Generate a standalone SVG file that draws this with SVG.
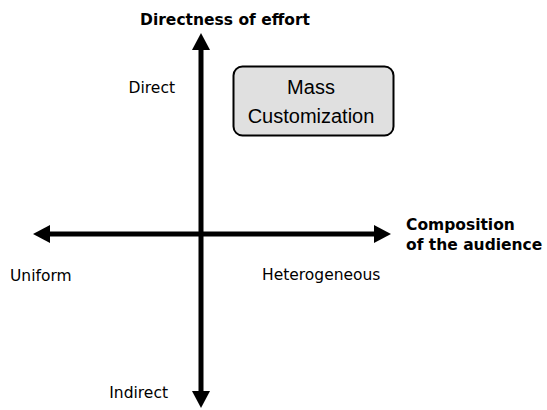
<svg xmlns="http://www.w3.org/2000/svg" width="547" height="410" viewBox="0 0 547 410">
  <style>
    .axis { stroke: #000; stroke-width: 5; fill: none; }
    .label { font-family: "DejaVu Sans", Verdana, sans-serif; font-size: 15.5px; fill: #000; }
    .title { font-family: "DejaVu Sans", Verdana, sans-serif; font-size: 15.5px; font-weight: bold; fill: #000; }
    .box { fill: #e0e0e0; stroke: #000; stroke-width: 2; }
    .boxtext { font-family: "Liberation Sans", Arial, sans-serif; font-size: 20px; fill: #000; text-anchor: middle; }
  </style>
  <defs>
    <marker id="head" markerUnits="userSpaceOnUse" markerWidth="17" markerHeight="18" refX="1" refY="9" orient="auto">
      <path d="M0,0 L17,9 L0,18 Z" fill="#000"/>
    </marker>
  </defs>

  <!-- axes, drawn from the origin outwards -->
  <g id="connectors">
    <line class="axis" x1="201" y1="234" x2="201" y2="49" marker-end="url(#head)"/>
    <line class="axis" x1="201" y1="234" x2="201" y2="392" marker-end="url(#head)"/>
    <line class="axis" x1="201" y1="234" x2="49" y2="234" marker-end="url(#head)"/>
    <line class="axis" x1="201" y1="234" x2="375" y2="234" marker-end="url(#head)"/>
  </g>

  <g id="axis-titles">
    <text class="title" x="225" y="25" text-anchor="middle">Directness of effort</text>
    <text class="title" x="406" y="230">Composition</text>
    <text class="title" x="406" y="250">of the audience</text>
  </g>

  <g id="axis-labels">
    <text class="label" x="175" y="92.5" text-anchor="end">Direct</text>
    <text class="label" x="168" y="398" text-anchor="end">Indirect</text>
    <text class="label" x="10" y="281">Uniform</text>
    <text class="label" x="262" y="280">Heterogeneous</text>
  </g>

  <g id="mass-customization">
    <rect class="box" x="233.5" y="66.5" width="160" height="69" rx="9" ry="9"/>
    <text class="boxtext" x="311" y="94">Mass</text>
    <text class="boxtext" x="311" y="123">Customization</text>
  </g>
</svg>
